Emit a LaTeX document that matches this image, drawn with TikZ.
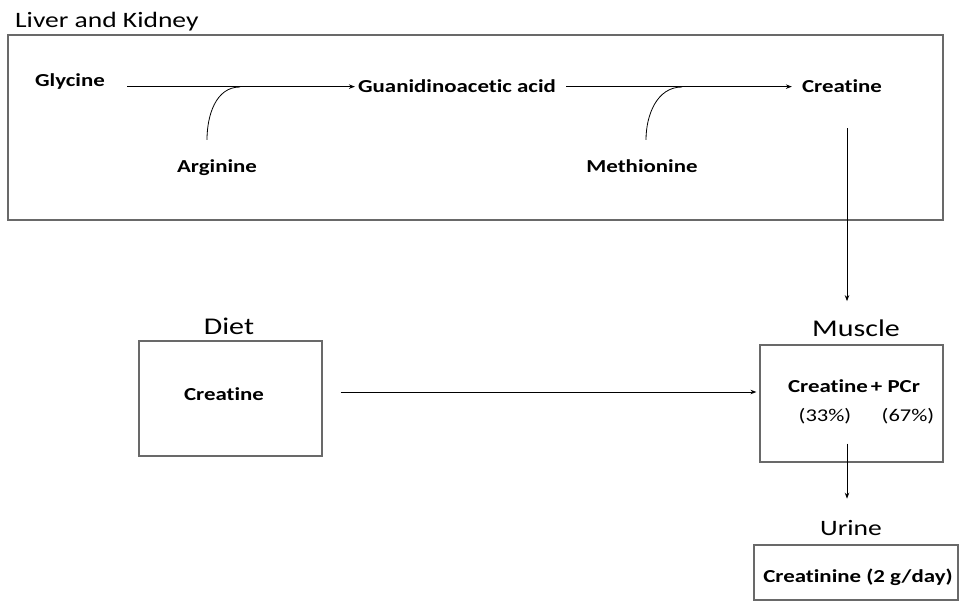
\documentclass[tikz,border=0pt]{standalone}
\usepackage{fontspec}
\setmainfont[FakeStretch=1.25, Ligatures=NoCommon]{Carlito}
\usetikzlibrary{arrows.meta}
\definecolor{framegray}{RGB}{105,105,105}
\newcommand\compfont{\fontsize{18.3}{22}\selectfont\bfseries}
\newcommand\organfont{\fontsize{24}{29}\selectfont}

\begin{document}
\begin{tikzpicture}[x=1pt, y=1pt,
    comp/.style={font=\compfont, inner sep=3pt},
    organ/.style={font=\organfont, inner sep=2pt},
    frame/.style={draw=framegray, line width=1.2pt},
    flow/.style={-{Stealth[length=6pt,width=4.5pt]}, line width=0.8pt},
    link/.style={line width=0.8pt}]
    \useasboundingbox (0,0) rectangle (960,605);
    \def\yrow{512};
    \def\yargs{432};
    % liver and kidney
    \node[organ, anchor=base west, font=\fontsize{22}{26}\selectfont] at (13,577) (LK) {Liver and Kidney};
    \node[frame, minimum width=935pt, minimum height=185pt] at (475.5,477.5) (LKbox) {};
    \node[comp, anchor=base] at (70,518) (Gly) {Glycine};
    \node[comp, anchor=base] at (457,\yrow) (Gaa) {Guanidinoacetic acid};
    \node[comp, anchor=base] at (842,\yrow) (CrL) {Creatine};
    \node[comp, anchor=base] at (217,\yargs) (Arg) {Arginine};
    \node[comp, anchor=base] at (642,\yargs) (Met) {Methionine};
    \coordinate (ArgIn) at ([xshift=-10pt,yshift=17pt]Arg.north);
    \coordinate (ArgJoin) at (240,518);
    \coordinate (MetIn) at ([xshift=4pt,yshift=17pt]Met.north);
    \coordinate (MetJoin) at (682,518);
    \draw[flow, shorten <=19pt] (Gly.east |- Gaa.west) -- (Gaa.west);
    \draw[flow, shorten <=7pt, shorten >=7pt] (Gaa.east) -- (CrL.west);
    \draw[link] (ArgIn) to[out=90, in=180] (ArgJoin);
    \draw[link] (MetIn) to[out=90, in=180] (MetJoin);
    % diet
    \node[organ, anchor=base] at (229,270) (Diet) {Diet};
    \node[frame, minimum width=183pt, minimum height=115pt] at (230.5,206.5) (Dbox) {};
    \node[comp, anchor=base] at (224,204) (CrD) {Creatine};
    % muscle
    \node[organ, anchor=base] at (856,268) (Mus) {Muscle};
    \node[frame, minimum width=183pt, minimum height=117pt] at (851.5,201.5) (Mbox) {};
    \node[comp, anchor=base] at (854,212) (CrM) {Creatine\,+ PCr};
    \node[anchor=base, font=\fontsize{18}{22}\selectfont] at (825,183) (P33) {(33\%)};
    \node[anchor=base, font=\fontsize{18}{22}\selectfont] at (908,183) (P67) {(67\%)};
    % urine
    \node[organ, anchor=base, font=\fontsize{22}{26}\selectfont] at (851,70) (Ur) {Urine};
    \node[frame, minimum width=204pt, minimum height=55pt] at (856,32.5) (Ubox) {};
    \node[comp, anchor=base] at (858,23) (Crn) {Creatinine (2 g/day)};
    % flows between organs
    \draw[flow, shorten <=32pt, shorten >=17pt] ([xshift=5pt]CrL.south) -- ([xshift=5pt]CrL.south |- Mus.north);
    \draw[flow, shorten <=18pt, shorten >=3pt] ([yshift=6.5pt]Dbox.east) -- ([yshift=6.5pt]Dbox.east -| Mbox.west);
    \draw[flow, shorten <=-19pt, shorten >=19pt] ([xshift=-4.5pt]Mbox.south) -- ([xshift=-4.5pt]Mbox.south |- Ur.north);
\end{tikzpicture}
\end{document}
